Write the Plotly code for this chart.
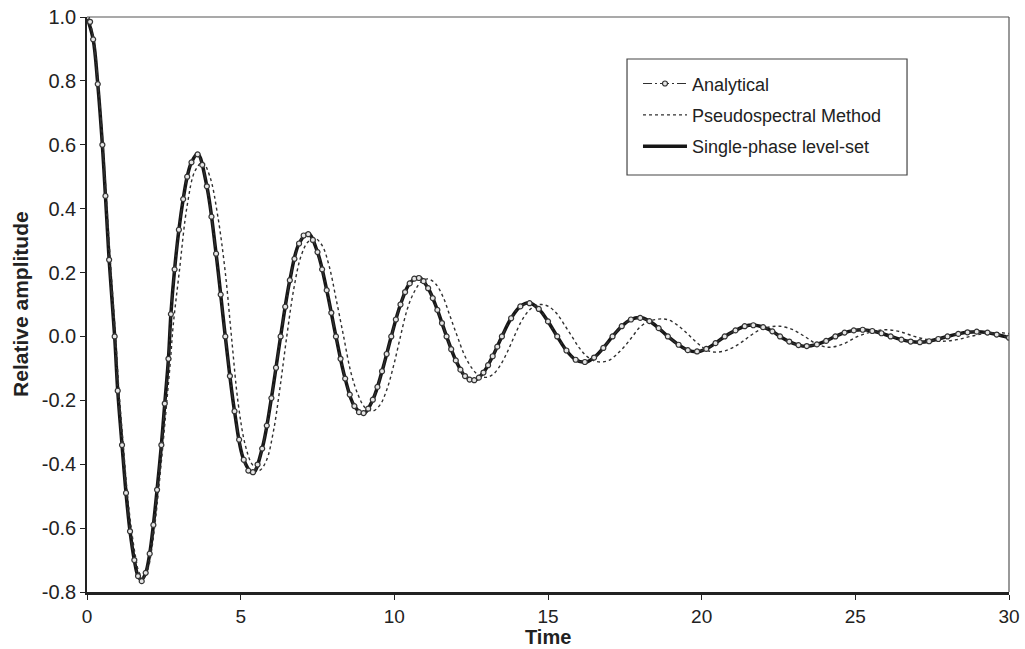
import plotly.graph_objects as go

# ---------------- data ----------------
analytical_t = [0.0, 0.1, 0.2, 0.35, 0.5, 0.6, 0.72, 0.9, 1.0, 1.14, 1.27, 1.4, 1.54, 1.66, 1.78,
                1.91, 2.04, 2.16, 2.28, 2.42, 2.53, 2.65, 2.73, 2.85, 2.99, 3.13, 3.26, 3.4, 3.6,
                3.75, 3.9, 4.05, 4.2, 4.35, 4.5, 4.65, 4.8, 4.95, 5.1, 5.25, 5.4, 5.55, 5.7, 5.85,
                6.0, 6.15, 6.3, 6.45, 6.6, 6.75, 6.9, 7.05, 7.2, 7.35, 7.5, 7.65, 7.8, 7.95, 8.1,
                8.25, 8.4, 8.55, 8.7, 8.85, 9.0, 9.15, 9.3, 9.45, 9.6, 9.75, 9.9, 10.05, 10.2,
                10.35, 10.5, 10.65, 10.8, 10.95, 11.1, 11.25, 11.4, 11.55, 11.7, 11.85, 12.0,
                12.15, 12.3, 12.45, 12.6, 12.75, 12.9, 13.05, 13.2, 13.35, 13.5, 13.8, 14.1, 14.4,
                14.7, 15.0, 15.3, 15.6, 15.9, 16.2, 16.5, 16.8, 17.1, 17.4, 17.7, 18.0, 18.3,
                18.6, 18.9, 19.25, 19.55, 19.85, 20.15, 20.45, 20.75, 21.1, 21.4, 21.68, 22.0,
                22.3, 22.55, 22.85, 23.15, 23.42, 23.75, 24.05, 24.35, 24.65, 24.95, 25.24, 25.55,
                25.85, 26.15, 26.5, 26.8, 27.1, 27.4, 27.7, 28.0, 28.35, 28.65, 28.95, 29.3, 29.6,
                30.0]
analytical_y = [1.0, 0.985, 0.93, 0.79, 0.60, 0.44, 0.24, 0.0, -0.17, -0.34, -0.49, -0.61, -0.70,
                -0.75, -0.766, -0.74, -0.68, -0.59, -0.48, -0.34, -0.21, -0.07, 0.07, 0.21, 0.334,
                0.43, 0.50, 0.545, 0.57, 0.537, 0.470, 0.375, 0.259, 0.131, 0.0, -0.124, -0.234,
                -0.323, -0.386, -0.42, -0.425, -0.401, -0.351, -0.279, -0.193, -0.098, 0.0, 0.093,
                0.176, 0.243, 0.291, 0.316, 0.32, 0.302, 0.264, 0.21, 0.145, 0.074, 0.0, -0.07,
                -0.132, -0.182, -0.218, -0.237, -0.24, -0.226, -0.198, -0.158, -0.109, -0.055, 0.0,
                0.053, 0.10, 0.139, 0.166, 0.181, 0.183, 0.173, 0.151, 0.12, 0.083, 0.042, 0.0,
                -0.04, -0.075, -0.104, -0.124, -0.135, -0.137, -0.129, -0.113, -0.09, -0.062,
                -0.032, 0.0, 0.057, 0.094, 0.104, 0.086, 0.047, 0.0, -0.044, -0.073, -0.08, -0.066,
                -0.036, 0.0, 0.032, 0.053, 0.058, 0.048, 0.026, 0.0, -0.026, -0.043, -0.047,
                -0.039, -0.021, 0.0, 0.019, 0.032, 0.035, 0.029, 0.016, 0.0, -0.016, -0.027, -0.03,
                -0.025, -0.014, 0.0, 0.012, 0.019, 0.021, 0.017, 0.01, 0.0, -0.01, -0.016, -0.018,
                -0.015, -0.008, 0.0, 0.008, 0.013, 0.015, 0.012, 0.006, -0.004]

pseudo_t = [0.0, 0.2, 0.35, 0.5, 0.62, 0.75, 0.93, 1.04, 1.18, 1.31, 1.44, 1.58, 1.7, 1.85, 1.98,
            2.1, 2.22, 2.34, 2.48, 2.6, 2.72, 2.8, 3.0, 3.26, 3.51, 3.76, 4.0, 4.25, 4.5, 4.7,
            4.92, 5.15, 5.37, 5.6, 5.83, 6.06, 6.28, 6.5, 6.73, 6.96, 7.19, 7.42, 7.65, 7.88,
            8.1, 8.35, 8.58, 8.81, 9.05, 9.3, 9.53, 9.76, 9.98, 10.2, 10.42, 10.65, 10.88, 11.1,
            11.34, 11.58, 11.8, 12.05, 12.29, 12.53, 12.76, 13.0, 13.22, 13.45, 13.68, 13.9,
            14.13, 14.36, 14.58, 14.8, 15.05, 15.3, 15.53, 15.78, 16.02, 16.26, 16.5, 16.75,
            17.0, 17.24, 17.5, 17.75, 17.97, 18.23, 18.5, 18.75, 18.97, 19.2, 19.42, 19.63,
            19.85, 20.07, 20.28, 20.5, 20.76, 21.03, 21.3, 21.55, 21.8, 22.05, 22.3, 22.55,
            22.95, 23.35, 23.75, 24.15, 24.6, 25.08, 25.55, 26.0, 26.45, 26.92, 27.4, 27.85,
            28.3, 28.75, 29.2, 29.65, 30.0]
pseudo_y = [1.0, 0.94, 0.81, 0.63, 0.45, 0.25, 0.0, -0.17, -0.34, -0.49, -0.60, -0.69, -0.74,
            -0.757, -0.73, -0.67, -0.58, -0.47, -0.33, -0.2, -0.07, 0.03, 0.2, 0.41, 0.517, 0.545,
            0.50, 0.38, 0.2, 0.0, -0.21, -0.34, -0.40, -0.42, -0.39, -0.30, -0.16, 0.0, 0.15,
            0.25, 0.296, 0.307, 0.285, 0.22, 0.12, 0.0, -0.11, -0.18, -0.223, -0.233, -0.215,
            -0.165, -0.09, 0.0, 0.085, 0.14, 0.172, 0.18, 0.165, 0.125, 0.067, 0.0, -0.06, -0.10,
            -0.123, -0.128, -0.118, -0.09, -0.048, 0.0, 0.047, 0.079, 0.096, 0.10, 0.092, 0.07,
            0.037, 0.0, -0.036, -0.062, -0.076, -0.08, -0.074, -0.056, -0.03, 0.0, 0.027, 0.045,
            0.053, 0.055, 0.05, 0.036, 0.019, 0.0, -0.02, -0.037, -0.047, -0.049, -0.045, -0.034,
            -0.018, 0.0, 0.016, 0.026, 0.031, 0.032, 0.022, 0.0, -0.024, -0.034, -0.024, 0.0,
            0.015, 0.021, 0.015, 0.0, -0.011, -0.015, -0.01, 0.0, 0.009, 0.012, 0.009]

levelset_t = [0.0, 0.2, 0.35, 0.5, 0.6, 0.72, 0.9, 1.0, 1.14, 1.27, 1.4, 1.54, 1.66, 1.77, 1.91,
              2.04, 2.16, 2.28, 2.42, 2.53, 2.65, 2.73, 2.85, 2.99, 3.13, 3.26, 3.4, 3.6, 3.9,
              4.2, 4.5, 4.8, 5.1, 5.4, 5.7, 6.0, 6.3, 6.6, 6.9, 7.2, 7.5, 7.8, 8.1, 8.4, 8.7,
              9.0, 9.3, 9.6, 9.9, 10.2, 10.5, 10.8, 11.1, 11.4, 11.7, 12.0, 12.3, 12.6, 12.9,
              13.2, 13.5, 13.8, 14.1, 14.4, 14.7, 15.0, 15.3, 15.6, 15.9, 16.2, 16.5, 16.8, 17.1,
              17.4, 17.7, 18.0, 18.3, 18.6, 18.9, 19.25, 19.55, 19.85, 20.15, 20.45, 20.75, 21.1,
              21.4, 21.68, 22.0, 22.3, 22.55, 22.85, 23.15, 23.42, 23.75, 24.05, 24.35, 24.65,
              24.95, 25.24, 25.55, 25.85, 26.15, 26.5, 26.8, 27.1, 27.4, 27.7, 28.0, 28.35,
              28.65, 28.95, 29.3, 29.6, 30.0]
levelset_y = [1.0, 0.93, 0.79, 0.60, 0.44, 0.24, 0.0, -0.17, -0.34, -0.49, -0.61, -0.70, -0.75,
              -0.762, -0.74, -0.68, -0.59, -0.48, -0.34, -0.21, -0.07, 0.07, 0.21, 0.334, 0.43,
              0.50, 0.545, 0.572, 0.470, 0.259, 0.0, -0.234, -0.386, -0.428, -0.351, -0.193, 0.0,
              0.176, 0.291, 0.322, 0.264, 0.145, 0.0, -0.132, -0.218, -0.242, -0.198, -0.109, 0.0,
              0.10, 0.166, 0.185, 0.151, 0.083, 0.0, -0.075, -0.124, -0.138, -0.113, -0.062, 0.0,
              0.057, 0.094, 0.105, 0.086, 0.047, 0.0, -0.044, -0.073, -0.081, -0.066, -0.036, 0.0,
              0.032, 0.053, 0.059, 0.048, 0.026, 0.0, -0.026, -0.043, -0.048, -0.039, -0.021, 0.0,
              0.019, 0.032, 0.036, 0.029, 0.016, 0.0, -0.016, -0.027, -0.031, -0.025, -0.014, 0.0,
              0.012, 0.019, 0.021, 0.017, 0.01, 0.0, -0.01, -0.016, -0.018, -0.015, -0.008, 0.0,
              0.008, 0.013, 0.015, 0.012, 0.006, -0.004]

x_ticks = [0, 5, 10, 15, 20, 25, 30]
y_ticks = [-0.8, -0.6, -0.4, -0.2, 0.0, 0.2, 0.4, 0.6, 0.8, 1.0]

FONT = "Liberation Sans, Arial, Helvetica, sans-serif"
INK = "#222222"

# ---------------- figure ----------------
fig = go.Figure()

fig.add_trace(go.Scatter(
    x=levelset_t, y=levelset_y, mode="lines", name="Single-phase level-set",
    line=dict(color="#161616", width=3.5, shape="spline", smoothing=1.0),
    legendgroup="c", legendrank=3))

fig.add_trace(go.Scatter(
    x=pseudo_t, y=pseudo_y, mode="lines", name="Pseudospectral Method",
    line=dict(color="#303030", width=1.4, dash="3px,3px", shape="spline", smoothing=1.0),
    legendgroup="b", legendrank=2))

fig.add_trace(go.Scatter(
    x=analytical_t, y=analytical_y, mode="lines+markers", name="Analytical",
    line=dict(color="#303030", width=1.2, dash="9px,3px,2px,3px", shape="spline", smoothing=1.0),
    marker=dict(symbol="circle", size=5, color="#e6e6e6", line=dict(color="#333333", width=1.2)),
    legendgroup="a", legendrank=1))

fig.update_layout(
    width=1025, height=649,
    margin=dict(l=87, r=16, t=17, b=57, autoexpand=False),
    paper_bgcolor="white", plot_bgcolor="white",
    font=dict(family=FONT, size=20, color=INK),
    showlegend=True,
    legend=dict(
        x=0.5976, y=0.916, xanchor="left", yanchor="top",
        bgcolor="rgba(0,0,0,0)", borderwidth=0,
        font=dict(family=FONT, size=18, color=INK),
        traceorder="grouped", tracegroupgap=5, itemwidth=44,
    ),
    xaxis=dict(
        range=[0, 30], tickmode="array", tickvals=x_ticks, ticktext=[str(v) for v in x_ticks],
        ticks="outside", ticklen=5, tickwidth=1, tickcolor=INK, automargin=False,
        tickfont=dict(family=FONT, size=19, color=INK),
        showline=True, linewidth=2.5, linecolor=INK, showgrid=False, zeroline=False,
    ),
    yaxis=dict(
        range=[-0.8, 1.0], tickmode="array", tickvals=y_ticks,
        ticktext=[f"{v:.1f}" for v in y_ticks], automargin=False,
        ticks="outside", ticklen=5, tickwidth=1, tickcolor=INK,
        tickfont=dict(family=FONT, size=20, color=INK),
        showline=True, linewidth=1.5, linecolor=INK, showgrid=False, zeroline=False,
    ),
    shapes=[
        dict(type="line", xref="paper", yref="paper", x0=0, x1=1, y0=1, y1=1,
             line=dict(color="#555555", width=1.2)),
        dict(type="line", xref="paper", yref="paper", x0=1, x1=1, y0=0, y1=1,
             line=dict(color="#555555", width=1.2)),
        dict(type="rect", xref="paper", yref="paper", x0=0.5857, x1=0.8894, y0=0.7252, y1=0.927,
             line=dict(color="#444444", width=1.2), fillcolor="rgba(0,0,0,0)", layer="above"),
    ],
    annotations=[
        dict(text="<b>Time</b>", xref="paper", yref="paper", x=0.5, y=-0.0991,
             xanchor="center", yanchor="bottom", showarrow=False, borderpad=0,
             font=dict(family=FONT, size=20, color=INK)),
        dict(text="<b>Relative amplitude</b>", xref="paper", yref="paper", x=-0.0716, y=0.501,
             xanchor="center", yanchor="middle", showarrow=False, textangle=-90,
             font=dict(family=FONT, size=21, color=INK)),
    ],
)

fig.write_html(
    "out.html",
    config={"displayModeBar": False},
    post_script="document.body.style.margin='0';document.body.style.padding='0';"
                "document.documentElement.style.overflow='hidden';",
)
